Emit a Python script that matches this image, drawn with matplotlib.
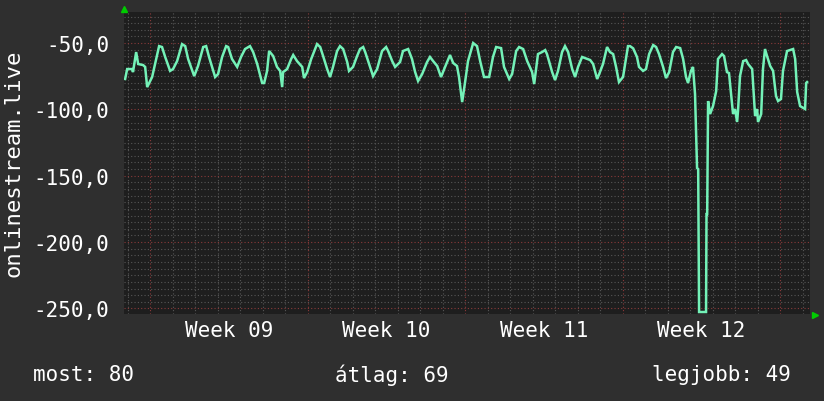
import numpy as np
import matplotlib
matplotlib.use('Agg')
import matplotlib.pyplot as plt
from matplotlib.ticker import FuncFormatter, MultipleLocator
import matplotlib.transforms as mtransforms

# days since start of Week 09
days = [-1.11, -1.02, -0.80, -0.76, -0.62, -0.53, -0.31, -0.22, -0.13, 0.09,
        0.22, 0.40, 0.53, 0.67, 0.89, 1.02, 1.20, 1.42, 1.56, 1.69,
        1.96, 2.13, 2.36, 2.49, 2.62, 2.89, 3.02, 3.20, 3.38, 3.47,
        3.64, 3.87, 4.04, 4.22, 4.44, 4.58, 4.76, 4.98, 5.07, 5.20,
        5.29, 5.47, 5.64, 5.78, 5.87, 5.91, 6.09, 6.27, 6.36, 6.53,
        6.76, 6.84, 6.98, 7.16, 7.42, 7.56, 7.69, 7.87, 8.00, 8.13,
        8.31, 8.44, 8.58, 8.76, 8.84, 9.02, 9.20, 9.33, 9.47, 9.56,
        9.69, 9.91, 10.09, 10.31, 10.49, 10.58, 10.76, 10.89, 11.11, 11.24,
        11.47, 11.64, 11.78, 11.91, 12.09, 12.31, 12.44, 12.58, 12.76, 12.93,
        13.11, 13.33, 13.47, 13.64, 13.73, 13.87, 14.00, 14.13, 14.36, 14.53,
        14.67, 14.84, 15.07, 15.24, 15.38, 15.60, 15.73, 15.96, 16.09, 16.27,
        16.40, 16.58, 16.76, 16.98, 17.07, 17.24, 17.42, 17.56, 17.64, 17.87,
        18.00, 18.13, 18.31, 18.44, 18.58, 18.76, 18.89, 19.02, 19.20, 19.33,
        19.56, 19.69, 19.87, 19.96, 20.13, 20.31, 20.44, 20.58, 20.71, 20.84,
        21.02, 21.16, 21.24, 21.33, 21.47, 21.64, 21.73, 21.91, 22.04, 22.18,
        22.36, 22.49, 22.62, 22.80, 22.93, 23.07, 23.24, 23.38, 23.56, 23.69,
        23.82, 23.91, 24.04, 24.13, 24.22, 24.31, 24.36, 24.40, 24.58, 24.71,
        24.73, 24.76, 24.80, 24.89, 25.02, 25.16, 25.24, 25.42, 25.51, 25.64,
        25.73, 25.87, 25.91, 26.00, 26.09, 26.13, 26.22, 26.36, 26.49, 26.58,
        26.76, 26.89, 26.98, 27.02, 27.16, 27.24, 27.33, 27.42, 27.56, 27.69,
        27.82, 27.91, 28.04, 28.13, 28.31, 28.58, 28.67, 28.76, 28.89, 29.11,
        29.16, 29.20]

values = [-77.1, -69.6, -69.6, -71.9, -56.8, -65.8, -66.6, -68.0, -83.2, -75.6,
          -65.8, -52.3, -53.0, -60.5, -71.0, -69.6, -63.6, -50.8, -52.3, -62.0,
          -74.9, -67.3, -53.0, -52.3, -60.5, -75.6, -73.4, -60.5, -52.3, -53.0,
          -62.0, -68.0, -60.5, -54.5, -52.3, -56.8, -65.8, -80.1, -80.1, -71.0,
          -56.0, -59.8, -68.0, -71.0, -83.2, -71.9, -69.6, -62.0, -59.0, -63.6,
          -68.0, -76.4, -71.9, -62.0, -50.8, -53.0, -59.8, -69.6, -75.6, -68.0,
          -56.0, -52.3, -54.5, -64.3, -71.0, -68.0, -59.8, -54.5, -53.0, -56.8,
          -63.6, -74.9, -69.6, -56.0, -53.0, -56.0, -63.6, -68.0, -64.3, -56.0,
          -54.5, -62.0, -71.9, -78.6, -73.4, -64.3, -60.5, -63.6, -67.3, -75.6,
          -68.0, -59.0, -65.0, -67.3, -75.6, -94.5, -79.4, -63.6, -50.0, -52.3,
          -63.6, -75.6, -75.6, -60.5, -53.0, -53.8, -68.0, -77.1, -73.4, -56.0,
          -53.0, -54.5, -63.6, -71.9, -80.9, -58.3, -56.8, -55.3, -58.3, -71.9,
          -77.9, -71.0, -56.8, -52.3, -56.8, -69.6, -75.6, -68.0, -60.5, -61.3,
          -62.8, -65.8, -77.1, -73.4, -65.8, -53.0, -56.8, -58.3, -68.0, -79.4,
          -75.6, -60.5, -52.3, -52.3, -54.0, -60.5, -68.0, -71.0, -69.6, -58.3,
          -51.5, -53.0, -58.3, -68.0, -76.4, -71.9, -56.8, -53.0, -53.8, -62.0,
          -75.6, -80.1, -71.0, -68.0, -88.4, -144.2, -145.0, -252.7, -252.7, -252.7,
          -178.9, -178.9, -93.7, -103.5, -97.5, -86.2, -62.0, -58.3, -59.8, -71.9,
          -72.6, -96.0, -103.5, -99.7, -109.5, -101.2, -74.9, -63.6, -62.8, -65.8,
          -69.6, -105.0, -99.7, -109.5, -103.5, -69.6, -54.5, -59.8, -67.3, -71.0,
          -90.0, -93.7, -92.2, -71.0, -56.0, -54.5, -62.0, -86.9, -97.5, -99.7,
          -80.1, -79.4]

week_starts = [0, 7, 14, 21, 28]
week_labels = ['Week 09', 'Week 10', 'Week 11', 'Week 12']
y_major = [-250, -200, -150, -100, -50]

bg = '#2f2f2f'
plot_bg = '#1e1e1e'
line_col = '#74f2b8'
mono = 'DejaVu Sans Mono'
fs = 15

fig = plt.figure(figsize=(8.24, 4.02), dpi=100, facecolor=bg)
W, H = 824, 402
ax = fig.add_axes([124 / W, (H - 315) / H, 686 / W, 302 / H])
ax.set_facecolor(plot_bg)

ax.set_xlim(-1.16, 29.33)
ax.set_ylim(-254.2, -26.6)

# grid: daily / every 5 minor, weeks / every 50 major
ax.xaxis.set_minor_locator(MultipleLocator(1))
ax.yaxis.set_minor_locator(MultipleLocator(5))
ax.set_xticks(week_starts)
ax.set_xticklabels([])
ax.set_yticks(y_major)
ax.yaxis.set_major_formatter(FuncFormatter(lambda v, p: f'{v:.1f}'.replace('.', ',')))
ax.grid(which='minor', color='#575757', linestyle=(0, (1, 2)), linewidth=0.8)
ax.grid(which='major', color='#8a3a3a', linestyle=(0, (1, 2)), linewidth=0.8)
ax.set_axisbelow(True)
ax.tick_params(which='both', length=0, colors='white', labelsize=fs, pad=10.5)
for lab in ax.get_yticklabels():
    lab.set_fontfamily(mono)
for s in ax.spines.values():
    s.set_visible(False)

ax.plot(days, values, color=line_col, linewidth=1.8, solid_joinstyle='miter')

trans = mtransforms.blended_transform_factory(ax.transData, ax.transAxes)
for i, lab in enumerate(week_labels):
    mid = (week_starts[i] + week_starts[i + 1]) / 2
    ax.text(mid, -0.052, lab, transform=trans, ha='center', va='center',
            color='white', fontsize=fs, family=mono)

fig.text(14 / W, 1 - 163 / H, 'onlinestream.live', rotation=90, ha='center', va='center',
         color='white', fontsize=16, family=mono)

fig.text(33 / W, 1 - 375 / H, 'most: 80', ha='left', va='center', color='white', fontsize=fs, family=mono)
fig.text(392 / W, 1 - 375 / H, 'átlag: 69', ha='center', va='center', color='white', fontsize=fs, family=mono)
fig.text(791 / W, 1 - 375 / H, 'legjobb: 49', ha='right', va='center', color='white', fontsize=fs, family=mono)

# little axis arrows
fig.lines.append(plt.Line2D([124 / W], [1 - 10 / H], marker='^', markersize=5, color='#00cc00',
                            transform=fig.transFigure, figure=fig))
fig.lines.append(plt.Line2D([815 / W], [1 - 316 / H], marker='>', markersize=5, color='#00cc00',
                            transform=fig.transFigure, figure=fig))

fig.savefig('out.png', dpi=100, facecolor=bg)
